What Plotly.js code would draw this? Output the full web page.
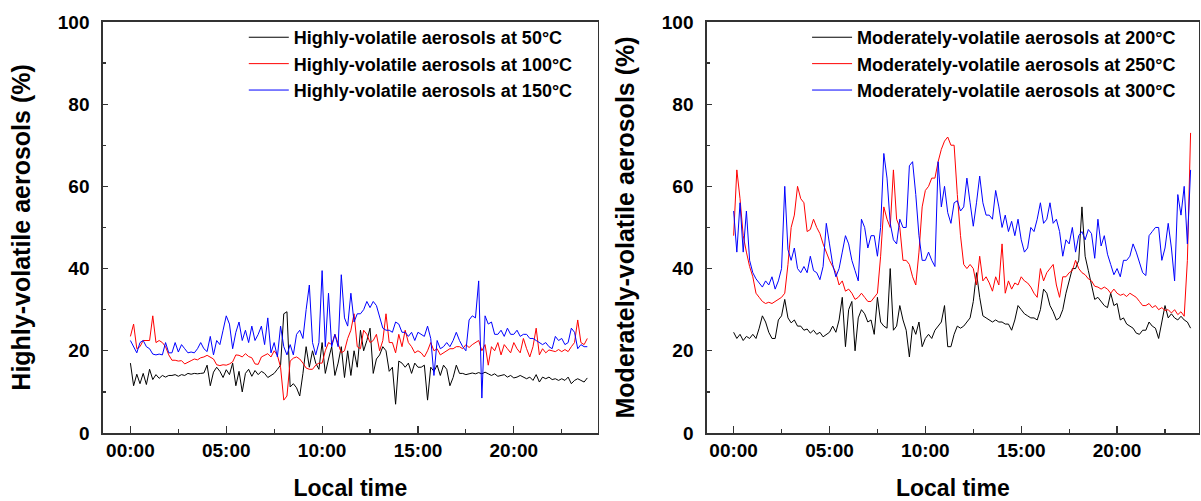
<!DOCTYPE html>
<html>
<head>
<meta charset="utf-8">
<script src="https://cdn.plot.ly/plotly-3.0.1.min.js"></script>
<style>
html,body{margin:0;padding:0;background:#fff;}
#chart{width:1201px;height:501px;}
</style>
</head>
<body>
<div id="chart"></div>
<script>
// sampling: one value every 10 minutes, starting at 00:00
const stepMinutes = 10;

// ---- Left panel: highly-volatile aerosols (%) ----
const hv50 = [
 17, 11.5, 14.3, 12, 14.5, 11.8,
 15.5, 13, 14.2, 13.3, 14, 13.6,
 14, 14, 14.2, 13.8, 14.2, 14,
 14.5, 14.3, 14.5, 14.4, 14.5, 14.6,
 16.5, 11.5, 14.8, 16, 15, 13.5,
 15.4, 14.2, 17, 11.5, 15, 10,
 14.5, 15.5, 13.8, 15.2, 14.2, 15,
 14.5, 13.5, 14, 14.5, 15.5, 16.5,
 29, 29.5, 11.2, 12, 11, 9,
 14.5, 21, 16, 20, 17, 15.5,
 22, 14.5, 18, 21, 14, 17,
 21, 13.5, 20, 14, 20, 16,
 25, 20, 22.5, 25.5, 14.5, 18,
 19, 21, 20, 15, 16, 7,
 17.5, 17, 16, 17, 14.5, 17,
 16, 16, 16.5, 8, 16, 15,
 16.5, 14, 16.5, 15.5, 11.5, 13.5,
 16.5, 14.5, 14.5, 14.2, 14.4, 14.6,
 14.4, 14.7, 14.4, 14.8, 14.4, 14,
 14.4, 13.8, 14, 14.2, 13.6, 14,
 13.4, 13.6, 14, 13.6, 13.2, 13.6,
 12.8, 14.2, 12.4, 13.6, 13.2, 13.6,
 13, 13.2, 12.8, 13.2, 12.8, 13.6,
 12, 12.8, 13.2, 12.8, 12.4, 13.4
];
const hv100 = [
 23.5, 26.5, 20.5, 21, 22.5, 22.5,
 22.5, 28.5, 22, 22.5, 22, 21,
 19, 17.7, 17.7, 17.5, 17.6, 16.8,
 17.3, 17.6, 18, 17.8, 18.3, 18.5,
 18.9, 18.5, 18, 16.6, 16.4, 16.6,
 16.5, 16.8, 17.3, 19, 18.9, 18.5,
 19.3, 18.6, 18.3, 16.8, 16.7, 18.5,
 18.9, 19.3, 18.5, 20, 18.9, 16,
 8, 9, 17.5, 18.2, 18.5, 18,
 17, 15.8, 15.5, 15.5, 16.5, 17,
 17, 20, 22, 21.5, 24, 21.5,
 19.5, 20, 23, 25, 29, 21,
 20.5, 25, 24, 22, 22.5, 24,
 20, 22.5, 29, 22, 22, 19.5,
 24, 21, 25, 22, 21, 19.5,
 20, 19.5, 18.5, 20, 22, 20,
 20.5, 19, 19.5, 20, 20.5, 20.5,
 21, 21, 20.5, 21.5, 20.8, 21.5,
 22, 22.5, 20, 21.5, 16.5, 21,
 20, 22, 19, 21.5, 20.5, 19.5,
 22, 20.5, 19.5, 23, 20.5, 18.5,
 21, 25.5, 19, 20.5, 19.5, 20.2,
 20, 19.8, 20.3, 19.8, 20.3, 19.8,
 21, 22, 27.5, 22, 21.5, 23
];
const hv150 = [
 22.5, 21, 19.5, 22, 22.5, 21,
 20.5, 19.2, 19, 19.2, 19, 22,
 19.5, 19.5, 22, 19.7, 21.5, 20.5,
 19.5, 19.7, 19.5, 20.5, 22, 20.5,
 19.8, 23.5, 19, 22.5, 21.5, 25,
 28.5, 26.5, 20.5, 24.5, 27, 22.5,
 25, 22, 26, 22.5, 24, 26,
 21.5, 28, 19.5, 22, 18.5, 26,
 21, 19, 21.5, 19, 24, 25,
 23, 30, 36, 22, 19, 22,
 39.5, 21, 34, 21, 24, 21,
 38.5, 28, 26, 34, 27, 29,
 29, 30, 32, 30.5, 32, 31,
 28.5, 25.5, 25, 25, 24.5, 27,
 26.5, 24.5, 24.5, 23.5, 24.5, 22.5,
 24.5, 24, 23.5, 26, 23, 14,
 22.5, 20.5, 21, 22, 21, 22.5,
 24.5, 22.5, 21, 20, 27.5, 28.5,
 28, 37, 8.5, 28.5, 26.5, 27,
 24, 24, 25, 23.5, 25.5, 24,
 24, 25, 23.5, 24, 24, 23,
 23, 22.5, 22, 21.5, 22, 21,
 20.5, 23.5, 22.5, 23, 21.5, 22,
 25.5, 24.5, 20.5, 21.5, 21, 21
];

// ---- Right panel: moderately-volatile aerosols (%) ----
const mv200 = [
 24.5, 23, 24, 22.5, 23.5, 23,
 24, 23, 25.5, 28.5, 27, 24.5,
 23, 23, 27.5, 28.5, 32.5, 28,
 26.8, 27.5, 26, 26, 25, 25.3,
 24.3, 25, 24, 24.5, 23.4, 24,
 24.5, 26, 24.5, 27.5, 33, 21,
 30, 32, 20, 28, 30, 29,
 27, 27.5, 24, 33, 27, 26,
 25.5, 40, 25, 26, 31, 27.5,
 25, 18.5, 26, 24, 27, 21,
 23, 24, 23, 25, 26, 27,
 31, 21, 21, 24, 26, 25.5,
 26, 27, 28, 32, 39, 33,
 28.5, 28, 27.5, 27, 27.5, 27,
 27, 26.5, 26.5, 25, 27.5, 31,
 30, 29, 28.5, 28, 28, 27.5,
 30, 35, 34, 31, 29.5, 27.5,
 28, 30, 34, 37, 40, 40,
 42, 55, 43, 39.5, 35.7, 32.5,
 33, 32, 31, 30.5, 34, 31,
 31.5, 27.5, 28, 26.5, 26, 25.5,
 24.3, 24, 25, 25, 27, 26,
 25.5, 23, 27, 31, 28, 29,
 28, 27.5, 28.4, 27.5, 27, 25.5
];
const mv250 = [
 48, 64, 57, 48, 44, 40.5,
 38, 34, 33, 32, 31.5, 31.8,
 31.5, 32, 32.5, 33, 34, 41,
 50, 53, 60, 57, 56, 49,
 49.5, 52, 50, 48.5, 46, 44,
 42, 40.5, 39, 36, 37, 34.5,
 35, 34, 32.5, 33, 34, 33,
 32, 32, 33, 34, 43, 55,
 52, 50, 64, 52, 50, 42,
 42, 41, 38, 36, 44, 55,
 59, 60, 62, 62, 66, 69,
 71, 72, 70, 70, 58, 48,
 41, 40, 41, 40, 36, 43,
 37, 38, 36.5, 34.5, 38, 36,
 46, 34, 37, 35, 36.5, 36,
 38, 37, 36.5, 35.5, 34, 33,
 40, 37, 39, 40, 41, 36,
 33, 38, 38, 39, 39.5, 42,
 40, 39, 38.5, 37.5, 37, 35.7,
 35.5, 35, 35.5, 35, 34, 35,
 34, 33.5, 33.8, 33.2, 34, 33.5,
 33, 32, 31, 31, 31.5, 30.5,
 31, 30, 30.5, 29.8, 30, 29.2,
 30, 28.8, 29.5, 28.4, 42, 73
];
const mv300 = [
 54, 44, 56, 44, 54, 42,
 39, 37.5, 36.5, 35.5, 37, 36,
 38, 35, 37, 40, 60, 44.6,
 42, 45, 40, 39, 40.5, 39,
 43, 39.5, 39, 37.3, 40.5, 51,
 46, 41, 38, 40, 44, 48,
 46, 42, 39.5, 37, 52, 50,
 45, 48, 48, 43, 50, 68,
 62, 51, 47, 46, 52, 50,
 50, 65, 66, 58, 48, 42,
 42, 44, 42, 40.5, 66, 55,
 60, 53.6, 51, 56, 56.5, 54,
 55, 62, 56, 50.3, 56, 62.5,
 56, 53, 53, 52, 59, 55,
 50, 53, 49, 51.5, 48, 52,
 47, 44, 45, 50, 49, 52,
 56, 51, 52, 56, 51, 52,
 49, 43, 47, 46, 50, 44,
 48, 49, 47, 49.5, 48.5, 42.5,
 52, 45.5, 48, 43.5, 41, 38.5,
 40, 38, 42, 42, 43, 46,
 44, 41.5, 39, 38.3, 48, 49,
 50, 50, 42, 45, 51, 45,
 37, 58, 53, 60, 46, 64
];

const tickHours = [0, 5, 10, 15, 20];
const tickLabels = ['00:00', '05:00', '10:00', '15:00', '20:00'];
const minorHours = [2.5, 7.5, 12.5, 17.5, 22.5];

const leftNames = ['Highly-volatile aerosols at 50°C', 'Highly-volatile aerosols at 100°C', 'Highly-volatile aerosols at 150°C'];
const rightNames = ['Moderately-volatile aerosols at 200°C', 'Moderately-volatile aerosols at 250°C', 'Moderately-volatile aerosols at 300°C'];
const colors = ['#000000', '#ff0000', '#0000ff'];

const hours = arr => arr.map((_, i) => i * stepMinutes / 60);

const FONT = 'Liberation Sans, Arial, sans-serif';

const traces = [];
[hv50, hv100, hv150].forEach((s, k) => traces.push({
  x: hours(s), y: s, type: 'scatter', mode: 'lines', name: leftNames[k],
  line: {color: colors[k], width: 1}, xaxis: 'x', yaxis: 'y', legend: 'legend'
}));
[mv200, mv250, mv300].forEach((s, k) => traces.push({
  x: hours(s), y: s, type: 'scatter', mode: 'lines', name: rightNames[k],
  line: {color: colors[k], width: 1}, xaxis: 'x2', yaxis: 'y2', legend: 'legend2'
}));

const tickFont = {family: FONT, size: 19, color: '#000', weight: 'bold'};
const titleFont = {family: FONT, size: 23, color: '#000', weight: 'bold'};
const yTitleFont = {family: FONT, size: 25, color: '#000', weight: 'bold'};

function xAxis(domain, range) {
  return {
    domain: domain, range: range, showgrid: false, zeroline: false,
    showline: true, mirror: true, linecolor: '#333', linewidth: 1.5,
    ticks: 'inside', ticklen: 7, tickwidth: 1.2, tickcolor: '#333',
    tickmode: 'array', tickvals: tickHours, ticktext: tickLabels,
    minor: {tickmode: 'array', tickvals: minorHours, ticks: 'inside', ticklen: 4, tickcolor: '#333', tickwidth: 1.2},
    tickfont: tickFont, ticklabelstandoff: 0,
    title: {text: 'Local time', font: titleFont, standoff: 27}
  };
}
function yAxis(domain, title, anchor) {
  return {
    domain: domain, range: [0, 100], showgrid: false, zeroline: false, anchor: anchor,
    showline: true, mirror: true, linecolor: '#333', linewidth: 1.5,
    ticks: 'inside', ticklen: 5, tickwidth: 1.2, tickcolor: '#333',
    tickmode: 'array', tickvals: [0, 20, 40, 60, 80, 100],
    minor: {tickmode: 'array', tickvals: [10, 30, 50, 70, 90], ticks: 'inside', ticklen: 3, tickcolor: '#333', tickwidth: 1.2},
    tickfont: tickFont, ticklabelstandoff: 8,
    title: {text: title, font: yTitleFont, standoff: 20}
  };
}

const yDom = [0.1357, 0.9563];
const legendFont = {family: FONT, size: 18, color: '#000', weight: 'bold'};

const layout = {
  width: 1201, height: 501,
  margin: {l: 0, r: 0, t: 0, b: 0},
  paper_bgcolor: '#fff', plot_bgcolor: '#fff',
  showlegend: true,
  xaxis: Object.assign(xAxis([0.0856, 0.4979], [-1.44, 24.39]), {anchor: 'y'}),
  yaxis: yAxis(yDom, 'Highly-volatile aerosols (%)', 'x'),
  xaxis2: Object.assign(xAxis([0.5885, 0.9983], [-1.40, 24.27]), {anchor: 'y2'}),
  yaxis2: yAxis(yDom, 'Moderately-volatile aerosols (%)', 'x2'),
  legend: {x: 0.203, y: 0.962, xanchor: 'left', yanchor: 'top', bgcolor: 'rgba(0,0,0,0)',
           borderwidth: 0, font: legendFont, itemwidth: 40, tracegroupgap: 0},
  legend2: {x: 0.672, y: 0.962, xanchor: 'left', yanchor: 'top', bgcolor: 'rgba(0,0,0,0)',
            borderwidth: 0, font: legendFont, itemwidth: 40, tracegroupgap: 0}
};

Plotly.newPlot('chart', traces, layout, {displayModeBar: false, staticPlot: true});
</script>
</body>
</html>
